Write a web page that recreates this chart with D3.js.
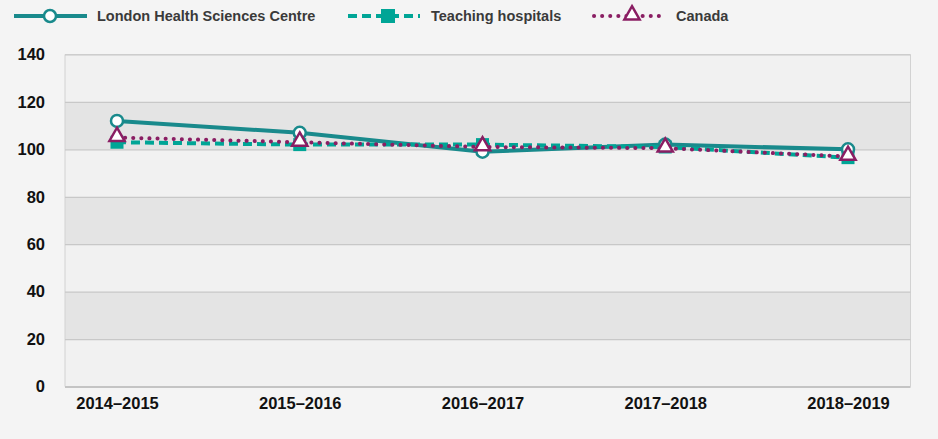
<!DOCTYPE html>
<html>
<head>
<meta charset="utf-8">
<script src="https://cdn.jsdelivr.net/npm/d3@7"></script>
<style>
  body { margin: 0; background: #f4f4f4; }
  svg { display: block; font-family: "Liberation Sans", Arial, sans-serif; }
</style>
</head>
<body>
<div id="container"></div>
<script>
// chart data
const years = ['2014–2015', '2015–2016', '2016–2017', '2017–2018', '2018–2019'];
const lhsc = [112, 107, 99, 102, 100];
const teaching = [103, 102, 102, 101, 96.5];
const canada = [105, 103, 101, 100.5, 97];
const yTicks = [0, 20, 40, 60, 80, 100, 120, 140];
const seriesNames = ['London Health Sciences Centre', 'Teaching hospitals', 'Canada'];

const svgWidth = 938;
const svgHeight = 439;
const plot = { left: 65, right: 910.5, top: 54.5, bottom: 386.5 };

const svg = d3.select('#container')
  .append('svg')
  .attr('width', svgWidth)
  .attr('height', svgHeight);

svg.append('rect')
  .attr('width', svgWidth)
  .attr('height', svgHeight)
  .attr('fill', '#f4f4f4');

const xScale = d3.scalePoint()
  .domain(years)
  .range([117, 848]);

const yScale = d3.scaleLinear()
  .domain([0, 140])
  .range([plot.bottom, plot.top]);

// alternating bands
const bands = yTicks.slice(0, -1);
svg.selectAll('rect.band')
  .data(bands)
  .enter()
  .append('rect')
  .attr('class', 'band')
  .attr('x', plot.left)
  .attr('width', plot.right - plot.left)
  .attr('y', d => yScale(d + 20))
  .attr('height', d => yScale(d) - yScale(d + 20))
  .attr('fill', (d, i) => i % 2 == 0 ? '#f1f1f1' : '#e4e4e4');

// frame
svg.append('path')
  .attr('d', `M${plot.left},${plot.bottom}V${plot.top}H${plot.right}V${plot.bottom}`)
  .attr('fill', 'none')
  .attr('stroke', '#d2d2d2')
  .attr('stroke-width', 1);

// gridlines and y axis labels
const yAxis = d3.axisLeft(yScale)
  .tickValues(yTicks)
  .tickSize(-(plot.right - plot.left))
  .tickPadding(20);

svg.append('g')
  .attr('id', 'y-axis')
  .attr('transform', `translate(${plot.left},0)`)
  .call(yAxis)
  .call(g => g.select('.domain').remove())
  .call(g => g.selectAll('line')
    .attr('stroke', (d) => d == 0 ? '#c4c4c4' : '#c8c8c8')
    .attr('stroke-width', d => d == 0 ? 2 : 1.2))
  .call(g => g.selectAll('text')
    .attr('fill', '#111')
    .style('font-size', '16.5px')
    .style('font-weight', 'bold'));

// x axis labels
const xAxis = d3.axisBottom(xScale).tickSize(0).tickPadding(11);
svg.append('g')
  .attr('id', 'x-axis')
  .attr('transform', `translate(0,${plot.bottom})`)
  .call(xAxis)
  .call(g => g.select('.domain').remove())
  .call(g => g.selectAll('text')
    .attr('fill', '#111')
    .style('font-size', '16.5px')
    .style('font-weight', 'bold'));

const teal = '#198a8c';
const green = '#00a596';
const purple = '#8a1e63';

const line = d3.line()
  .x((d, i) => xScale(years[i]))
  .y(d => yScale(d));

// LHSC line
svg.append('path')
  .datum(lhsc)
  .attr('d', line)
  .attr('fill', 'none')
  .attr('stroke', teal)
  .attr('stroke-width', 4);

// teaching hospitals line
svg.append('path')
  .datum(teaching)
  .attr('d', line)
  .attr('fill', 'none')
  .attr('stroke', green)
  .attr('stroke-width', 4)
  .attr('stroke-dasharray', '9,5');

// Canada line
svg.append('path')
  .datum(canada)
  .attr('d', line)
  .attr('fill', 'none')
  .attr('stroke', purple)
  .attr('stroke-width', 4)
  .attr('stroke-linecap', 'round')
  .attr('stroke-dasharray', '0.1,8');

// markers
svg.selectAll('rect.sq')
  .data(teaching)
  .enter()
  .append('rect')
  .attr('class', 'sq')
  .attr('x', (d, i) => xScale(years[i]) - 6.5)
  .attr('y', d => yScale(d) - 6.5)
  .attr('width', 13)
  .attr('height', 13)
  .attr('fill', green);

svg.selectAll('circle.pt')
  .data(lhsc)
  .enter()
  .append('circle')
  .attr('class', 'pt')
  .attr('cx', (d, i) => xScale(years[i]))
  .attr('cy', d => yScale(d))
  .attr('r', 6)
  .attr('fill', '#fff')
  .attr('stroke', teal)
  .attr('stroke-width', 2.5);

const tri = d3.symbol().type(d3.symbolTriangle).size(100);
svg.selectAll('path.tri')
  .data(canada)
  .enter()
  .append('path')
  .attr('class', 'tri')
  .attr('d', tri)
  .attr('transform', (d, i) => `translate(${xScale(years[i])},${yScale(d) - 1})`)
  .attr('fill', '#fff')
  .attr('stroke', purple)
  .attr('stroke-width', 2.5);

// legend
const legendY = 16;
const legend = svg.append('g').attr('id', 'legend');

legend.append('line')
  .attr('x1', 14).attr('x2', 87)
  .attr('y1', legendY).attr('y2', legendY)
  .attr('stroke', teal).attr('stroke-width', 4);
legend.append('circle')
  .attr('cx', 50).attr('cy', legendY).attr('r', 6)
  .attr('fill', '#fff').attr('stroke', teal).attr('stroke-width', 2.5);

legend.append('line')
  .attr('x1', 348).attr('x2', 420)
  .attr('y1', legendY).attr('y2', legendY)
  .attr('stroke', green).attr('stroke-width', 4)
  .attr('stroke-dasharray', '9,5');
legend.append('rect')
  .attr('x', 381).attr('y', legendY - 7).attr('width', 14).attr('height', 14)
  .attr('fill', green);

legend.append('line')
  .attr('x1', 594).attr('x2', 662)
  .attr('y1', legendY).attr('y2', legendY)
  .attr('stroke', purple).attr('stroke-width', 4)
  .attr('stroke-linecap', 'round')
  .attr('stroke-dasharray', '0.1,8');
legend.append('path')
  .attr('d', tri)
  .attr('transform', `translate(632,${legendY - 1})`)
  .attr('fill', '#fff').attr('stroke', purple).attr('stroke-width', 2.5);

const legendX = [97, 431, 676];
legend.selectAll('text')
  .data(seriesNames)
  .enter()
  .append('text')
  .attr('x', (d, i) => legendX[i])
  .attr('y', legendY + 5)
  .text(d => d)
  .attr('fill', '#3a3a3a')
  .style('font-size', '14.5px')
  .style('font-weight', 'bold');
</script>
</body>
</html>
